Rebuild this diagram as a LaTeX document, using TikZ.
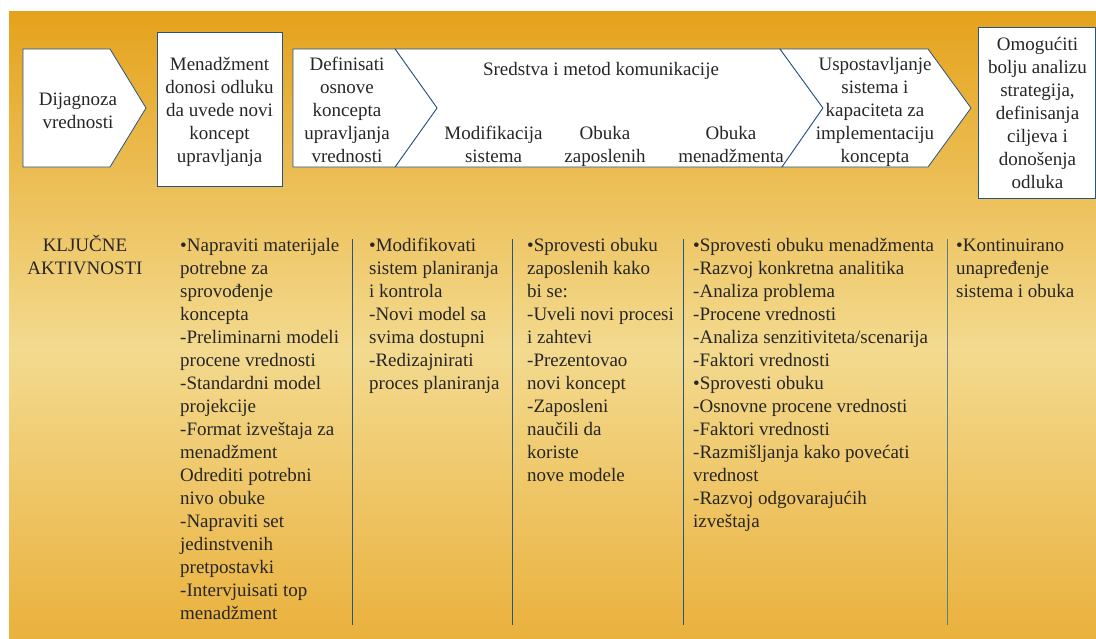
\documentclass[tikz,border=0pt]{standalone}
\usepackage{fontspec}
\setmainfont{Liberation Serif}
\begin{document}
\definecolor{bgtop}{RGB}{229,162,28}
\definecolor{bgmid}{RGB}{243,218,143}
\definecolor{bgbot}{RGB}{234,177,61}
\definecolor{edge}{RGB}{36,84,130}
\definecolor{rulegrey}{RGB}{96,124,128}
\definecolor{ink}{RGB}{38,38,38}
\begin{tikzpicture}[x=1pt,y=-1pt,
  box/.style={fill=white,draw=edge,line width=0.8pt,line join=miter},
  divider/.style={draw=edge,line width=1pt},
  txt/.style={font=\fontsize{19}{23}\selectfont,text=ink,inner sep=0pt},
  ctxt/.style={txt,align=center,anchor=north},
  ltxt/.style={txt,align=left,anchor=north west}]
\newcommand{\firstline}{\rule{0pt}{18pt}}
% page and banded background
\useasboundingbox (0,0) rectangle (1096,638);
\fill[white] (0,0) rectangle (1096,638);
\shade[top color=bgtop,bottom color=bgmid] (9,11) rectangle (1096,350);
\shade[top color=bgmid,bottom color=bgbot] (9,349.5) rectangle (1096,638);

% process shapes
\draw[box] (23,49) -- (110,49) -- (146,108) -- (110,167) -- (23,167) -- cycle;
\draw[box] (157,32) rectangle (282,186);
\draw[box] (395,49) -- (780,49) -- (823,108) -- (782,167) -- (395,167) -- (437,108) -- cycle;
\draw[box] (293,49) -- (395,49) -- (437,108) -- (395,167) -- (293,167) -- cycle;
\draw[box] (780,49) -- (928,49) -- (971,108) -- (928,167) -- (782,167) -- (823,108) -- cycle;
\draw[box] (978,27) rectangle (1095.5,198);

% shape labels
\node[ctxt] (dij) at (78,87) {\firstline Dijagnoza\\vrednosti};
\node[ctxt] (men) at (219.5,52) {\firstline Menadžment\\donosi odluku\\da uvede novi\\koncept\\upravljanja};
\node[ctxt] (def) at (347,52) {\firstline Definisati\\osnove\\koncepta\\upravljanja\\vrednosti};
\node[ctxt] (sred) at (601,57) {\firstline Sredstva i metod komunikacije};
\node[ctxt] (mod) at (493.5,121) {\firstline Modifikacija\\sistema};
\node[ctxt] (obz) at (605,121) {\firstline Obuka\\zaposlenih};
\node[ctxt] (obm) at (731,121) {\firstline Obuka\\menadžmenta};
\node[ctxt] (usp) at (875,52) {\firstline Uspostavljanje\\sistema i\\kapaciteta za\\implementaciju\\koncepta};
\node[ctxt] (omo) at (1037.5,32) {\firstline Omogućiti\\bolju analizu\\strategija,\\definisanja\\ciljeva i\\donošenja\\odluka};

% column dividers
\draw[divider] (352,239) -- (352,625);
\draw[divider] (512,239) -- (512,625);
\draw[divider] (683,239) -- (683,625);
\draw[divider,draw=rulegrey] (947,239) -- (947,625);

% key activities
\node[ctxt] (kljuc) at (85,233) {\firstline KLJUČNE\\AKTIVNOSTI};
\node[ltxt] (c1) at (180,233) {\firstline •Napraviti materijale\\potrebne za\\sprovođenje\\koncepta\\-Preliminarni modeli\\procene vrednosti\\-Standardni model\\projekcije\\-Format izveštaja za\\menadžment\\Odrediti potrebni\\nivo obuke\\-Napraviti set\\jedinstvenih\\pretpostavki\\-Intervjuisati top\\menadžment};
\node[ltxt] (c2) at (369,233) {\firstline •Modifikovati\\sistem planiranja\\i kontrola\\-Novi model sa\\svima dostupni\\-Redizajnirati\\proces planiranja};
\node[ltxt] (c3) at (527,233) {\firstline •Sprovesti obuku\\zaposlenih kako\\bi se:\\-Uveli novi procesi\\i zahtevi\\-Prezentovao\\novi koncept\\-Zaposleni\\naučili da\\koriste\\nove modele};
\node[ltxt] (c4) at (693,233) {\firstline •Sprovesti obuku menadžmenta\\-Razvoj konkretna analitika\\-Analiza problema\\-Procene vrednosti\\-Analiza senzitiviteta/scenarija\\-Faktori vrednosti\\•Sprovesti obuku\\-Osnovne procene vrednosti\\-Faktori vrednosti\\-Razmišljanja kako povećati\\vrednost\\-Razvoj odgovarajućih\\izveštaja};
\node[ltxt] (c5) at (956,233) {\firstline •Kontinuirano\\unapređenje\\sistema i obuka};
\end{tikzpicture}
\end{document}
